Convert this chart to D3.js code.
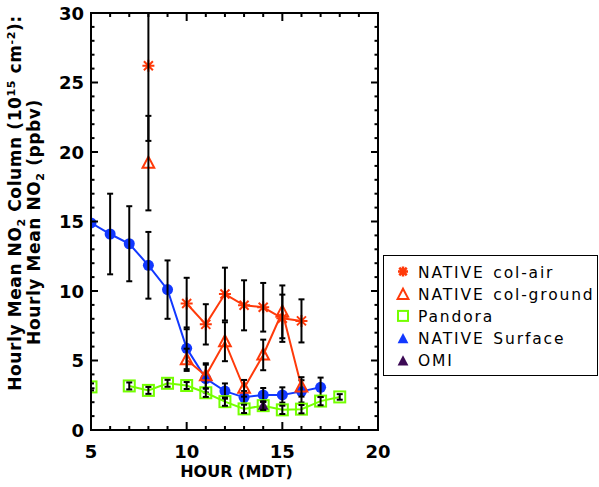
<!DOCTYPE html>
<html><head><meta charset="utf-8">
<script src="https://cdn.jsdelivr.net/npm/d3@7"></script>
<style>body{margin:0;background:#fff}svg{display:block}</style>
</head><body>
<script>
// ---- data ----
const hours = [5,6,7,8,9,10,11,12,13,14,15,16,17,18];
const surfaceVal = [14.9,14.1,13.4,11.85,10.1,5.88,3.7,2.8,2.35,2.52,2.52,2.78,3.07,null];
const surfaceErr = [0,2.9,2.7,2.4,2.1,1.5,1.0,0.55,0.45,0.5,0.55,0.8,0.7,null];
const airVal = [null,null,null,26.2,null,9.1,7.6,9.78,8.97,8.83,8.04,7.85,null,null];
const airErr = [null,null,null,5.4,null,1.85,1.45,1.9,1.8,1.75,1.7,1.55,null,null];
const groundVal = [null,null,null,19.2,null,5.05,3.9,6.35,3.0,5.4,8.5,3.1,null,null];
const groundErr = [null,null,null,3.4,null,0.8,0.9,1.4,0.6,1.1,1.9,0.7,null,null];
const pandoraVal = [3.1,null,3.17,2.85,3.36,3.2,2.68,2.04,1.52,1.75,1.45,1.5,2.08,2.38];
const pandoraErr = [0.25,null,0.25,0.25,0.25,0.25,0.3,0.3,0.3,0.3,0.3,0.3,0.3,0.2];
const omiHour = [14];
const omiVal = [1.75];
const omiErr = [0.3];
const xTicks = [5,10,15,20];
const yTicks = [0,5,10,15,20,25,30];
const legendLabels = ["NATIVE col-air","NATIVE col-ground","Pandora","NATIVE Surface","OMI"];

const W = 599, H = 487;
const m = {left:91, right:378, top:13, bottom:430};
const cRed = "#ff3a0a", cBlue = "#1238ff", cGreen = "#74ff00", cOmi = "#3c0a55";

const svg = d3.select("body").append("svg").attr("width",W).attr("height",H);
const x = d3.scaleLinear().domain([5,20]).range([m.left,m.right]);
const y = d3.scaleLinear().domain([0,30]).range([m.bottom,m.top]);

const plot = svg.append("g");
svg.append("defs").append("clipPath").attr("id","clip")
  .append("rect").attr("x",m.left).attr("y",m.top).attr("width",m.right-m.left).attr("height",m.bottom-m.top);
const g = plot.append("g").attr("clip-path","url(#clip)");

function series(vals){ return hours.map((h,i)=>({h, v:vals[i]})); }
const line = d3.line().defined(d=>d.v!=null).x(d=>x(d.h)).y(d=>y(d.v));

function errorBars(vals, errs, hs){
  const hh = hs || hours;
  const data = hh.map((h,i)=>({h, v:vals[i], e:errs[i]})).filter(d=>d.v!=null && d.e);
  const eg = g.append("g").attr("stroke","#000").attr("stroke-width",2).attr("fill","none");
  data.forEach(d=>{
    const cx = x(d.h), y1 = y(d.v+d.e), y2 = y(d.v-d.e);
    eg.append("line").attr("x1",cx).attr("x2",cx).attr("y1",y1).attr("y2",y2);
    eg.append("line").attr("x1",cx-3).attr("x2",cx+3).attr("y1",y1).attr("y2",y1);
    eg.append("line").attr("x1",cx-3).attr("x2",cx+3).attr("y1",y2).attr("y2",y2);
  });
}

// NATIVE Surface
g.append("path").datum(series(surfaceVal)).attr("d",line).attr("fill","none").attr("stroke",cBlue).attr("stroke-width",2);
g.selectAll(".sc").data(series(surfaceVal).filter(d=>d.v!=null)).enter().append("circle")
  .attr("cx",d=>x(d.h)).attr("cy",d=>y(d.v)).attr("r",5.5).attr("fill",cBlue);
errorBars(surfaceVal, surfaceErr);

// Pandora
g.append("path").datum(series(pandoraVal)).attr("d",line).attr("fill","none").attr("stroke",cGreen).attr("stroke-width",2);
g.selectAll(".pq").data(series(pandoraVal).filter(d=>d.v!=null)).enter().append("rect")
  .attr("x",d=>x(d.h)-5.5).attr("y",d=>y(d.v)-5.5).attr("width",11).attr("height",11)
  .attr("fill","none").attr("stroke",cGreen).attr("stroke-width",2);
errorBars(pandoraVal, pandoraErr);

// col-ground
const tri = s => `M0,${-s}L${s*0.9},${s*0.7}L${-s*0.9},${s*0.7}Z`;
g.append("path").datum(series(groundVal)).attr("d",line).attr("fill","none").attr("stroke",cRed).attr("stroke-width",2);
g.selectAll(".gt").data(series(groundVal).filter(d=>d.v!=null)).enter().append("path")
  .attr("transform",d=>`translate(${x(d.h)},${y(d.v)})`).attr("d",tri(6.5))
  .attr("fill","none").attr("stroke",cRed).attr("stroke-width",2);
errorBars(groundVal, groundErr);

// col-air
const star = s => `M0,${-s}L0,${s}M${-s},0L${s},0M${-s*0.75},${-s*0.75}L${s*0.75},${s*0.75}M${-s*0.75},${s*0.75}L${s*0.75},${-s*0.75}`;
g.append("path").datum(series(airVal)).attr("d",line).attr("fill","none").attr("stroke",cRed).attr("stroke-width",2);
g.selectAll(".as").data(series(airVal).filter(d=>d.v!=null)).enter().append("path")
  .attr("transform",d=>`translate(${x(d.h)},${y(d.v)})`).attr("d",star(6))
  .attr("fill","none").attr("stroke",cRed).attr("stroke-width",2);
errorBars(airVal, airErr);

// OMI
g.selectAll(".om").data(omiHour.map((h,i)=>({h, v:omiVal[i]}))).enter().append("path")
  .attr("transform",d=>`translate(${x(d.h)},${y(d.v)})`).attr("d",tri(6)).attr("fill",cOmi);
errorBars(omiVal, omiErr, omiHour);

// ---- axes (box with inward ticks) ----
const ax = svg.append("g").attr("stroke","#000").attr("fill","none");
ax.append("rect").attr("x",m.left).attr("y",m.top).attr("width",m.right-m.left).attr("height",m.bottom-m.top).attr("stroke-width",2);
d3.range(5,21,1).forEach(h=>{
  const L = h%5===0 ? 8 : 4;
  ax.append("line").attr("x1",x(h)).attr("x2",x(h)).attr("y1",m.bottom).attr("y2",m.bottom-L).attr("stroke-width",2);
  ax.append("line").attr("x1",x(h)).attr("x2",x(h)).attr("y1",m.top).attr("y2",m.top+L).attr("stroke-width",2);
});
d3.range(0,31,1).forEach(v=>{
  const L = v%5===0 ? 7 : 3.5;
  ax.append("line").attr("y1",y(v)).attr("y2",y(v)).attr("x1",m.left).attr("x2",m.left+L).attr("stroke-width",2);
  ax.append("line").attr("y1",y(v)).attr("y2",y(v)).attr("x1",m.right).attr("x2",m.right-L).attr("stroke-width",2);
});

const fontAx = "'DejaVu Sans', sans-serif";
svg.selectAll(".xt").data(xTicks).enter().append("text")
  .attr("x",d=>x(d)).attr("y",458).attr("text-anchor","middle")
  .attr("font-family",fontAx).attr("font-weight","bold").attr("font-size",18).text(d=>d);
svg.selectAll(".yt").data(yTicks).enter().append("text")
  .attr("x",84).attr("y",d=>y(d)+6.5).attr("text-anchor","end")
  .attr("font-family",fontAx).attr("font-weight","bold").attr("font-size",18).text(d=>d);
svg.append("text").attr("x",(m.left+m.right)/2 + 2).attr("y",477).attr("text-anchor","middle")
  .attr("font-family",fontAx).attr("font-weight","bold").attr("font-size",16).text("HOUR (MDT)");

// y title (two lines, rotated)
const yt1 = svg.append("text").attr("transform","translate(21,203) rotate(-90)").attr("text-anchor","middle")
  .attr("font-family",fontAx).attr("font-weight","bold").attr("font-size",17).attr("letter-spacing",0.6);
yt1.append("tspan").text("Hourly Mean NO");
yt1.append("tspan").attr("font-size",11).attr("dy",4).text("2");
yt1.append("tspan").attr("dy",-4).text(" Column (10");
yt1.append("tspan").attr("font-size",11).attr("dy",-6).text("15");
yt1.append("tspan").attr("dy",6).text(" cm");
yt1.append("tspan").attr("font-size",11).attr("dy",-6).text("-2");
yt1.append("tspan").attr("dy",6).text("):");
const yt2 = svg.append("text").attr("transform","translate(40,222) rotate(-90)").attr("text-anchor","middle")
  .attr("font-family",fontAx).attr("font-weight","bold").attr("font-size",17).attr("letter-spacing",0.6);
yt2.append("tspan").text("Hourly Mean NO");
yt2.append("tspan").attr("font-size",11).attr("dy",4).text("2");
yt2.append("tspan").attr("dy",-4).text(" (ppbv)");

// ---- legend ----
const lg = svg.append("g");
lg.append("rect").attr("x",383.5).attr("y",255.5).attr("width",214).attr("height",120)
  .attr("fill","#fff").attr("stroke","#000").attr("stroke-width",1);
const rowY = i => 271.5 + i*22.2;
const sx = 403;
legendLabels.forEach((t,i)=>{
  lg.append("text").attr("x",418).attr("y",rowY(i)+6).attr("font-family","'DejaVu Sans', sans-serif")
    .attr("font-size",15.5).attr("letter-spacing",1.85).attr("word-spacing",2).text(t);
});
lg.append("path").attr("transform",`translate(${sx},${rowY(0)})`).attr("d",star(5)).attr("stroke",cRed).attr("stroke-width",2.5).attr("fill","none");
lg.append("path").attr("transform",`translate(${sx},${rowY(1)+1})`).attr("d",tri(6)).attr("stroke",cRed).attr("stroke-width",2).attr("fill","none");
lg.append("rect").attr("x",sx-5).attr("y",rowY(2)-5).attr("width",10).attr("height",10).attr("stroke",cGreen).attr("stroke-width",2).attr("fill","none");
lg.append("path").attr("transform",`translate(${sx},${rowY(3)+1})`).attr("d",tri(6)).attr("fill",cBlue);
lg.append("path").attr("transform",`translate(${sx},${rowY(4)+1})`).attr("d",tri(6)).attr("fill",cOmi);
</script>
</body></html>
